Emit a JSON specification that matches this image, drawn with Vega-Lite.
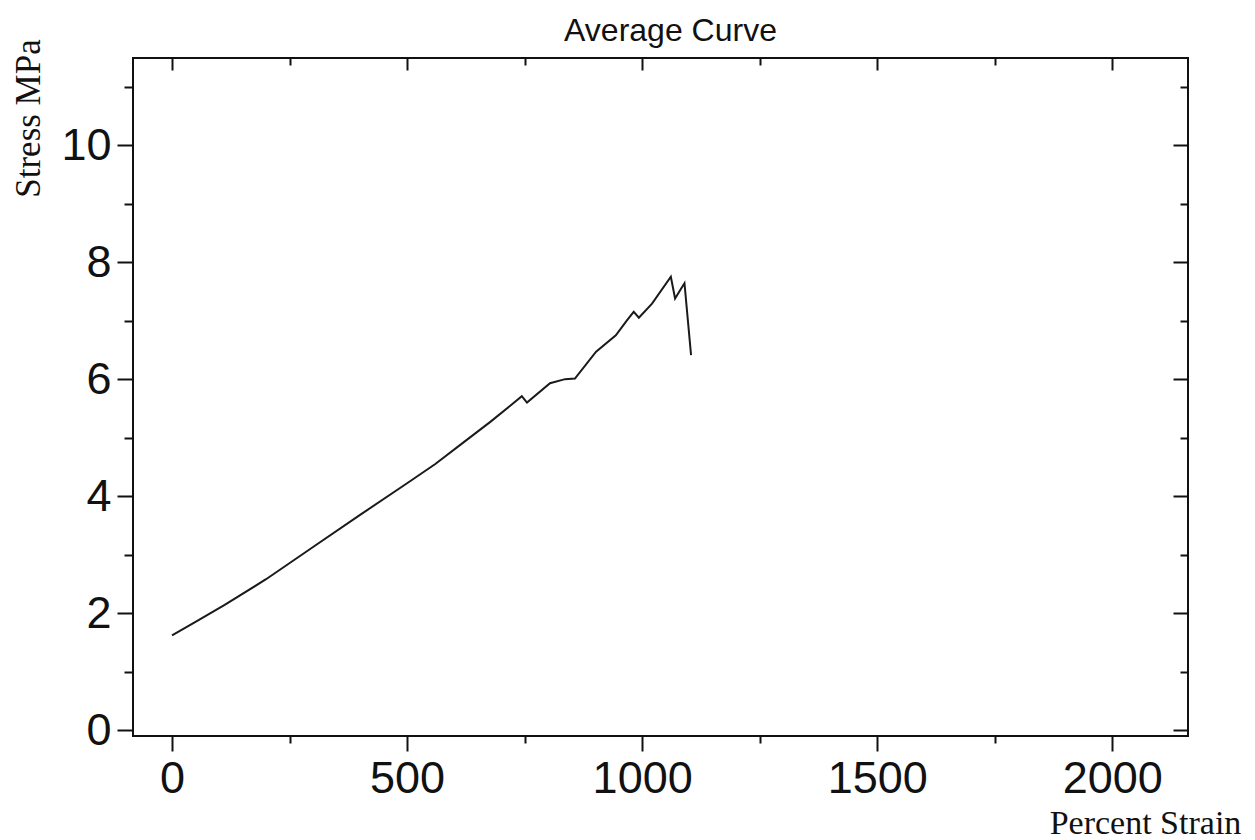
{
  "$schema": "https://vega.github.io/schema/vega-lite/v6.json",
  "width": 1055,
  "height": 678,
  "autosize": {"type": "none"},
  "padding": {"left": 133, "top": 58, "right": 67, "bottom": 104},
  "background": "#ffffff",
  "title": {
    "text": "Average Curve",
    "font": "Liberation Sans",
    "fontSize": 32,
    "fontWeight": "normal",
    "color": "#111111",
    "offset": 14,
    "dx": 10,
    "dy": 23
  },
  "config": {
    "view": {"stroke": "#111111", "strokeWidth": 2},
    "axis": {
      "domain": false,
      "grid": false,
      "tickColor": "#111111",
      "tickWidth": 2,
      "labelColor": "#111111",
      "labelFont": "Liberation Sans",
      "labelFontSize": 45,
      "format": "d",
      "titleColor": "#111111"
    }
  },
  "data": {
    "values": [
      {"strain": 0, "stress": 1.62},
      {"strain": 50, "stress": 1.85},
      {"strain": 112, "stress": 2.14},
      {"strain": 200, "stress": 2.58},
      {"strain": 300, "stress": 3.13},
      {"strain": 400, "stress": 3.68},
      {"strain": 500, "stress": 4.22},
      {"strain": 560, "stress": 4.55},
      {"strain": 620, "stress": 4.92},
      {"strain": 677, "stress": 5.27},
      {"strain": 720, "stress": 5.55},
      {"strain": 744, "stress": 5.71},
      {"strain": 755, "stress": 5.6},
      {"strain": 804, "stress": 5.93},
      {"strain": 836, "stress": 6.0},
      {"strain": 857, "stress": 6.01},
      {"strain": 902, "stress": 6.47},
      {"strain": 944, "stress": 6.75},
      {"strain": 968, "stress": 7.01},
      {"strain": 982, "stress": 7.15},
      {"strain": 993, "stress": 7.05},
      {"strain": 1021, "stress": 7.29},
      {"strain": 1061, "stress": 7.75},
      {"strain": 1070, "stress": 7.38},
      {"strain": 1083, "stress": 7.55},
      {"strain": 1090, "stress": 7.64},
      {"strain": 1104, "stress": 6.41}
    ]
  },
  "resolve": {"axis": {"x": "independent", "y": "independent"}},
  "layer": [
    {
      "mark": {"type": "line", "color": "#1a1a1a", "strokeWidth": 2},
      "encoding": {
        "x": {
          "field": "strain",
          "type": "quantitative",
          "scale": {"domain": [-83, 2161], "nice": false, "zero": false},
          "axis": {
            "orient": "bottom",
            "values": [0, 500, 1000, 1500, 2000],
            "tickSize": 15,
            "labelPadding": 5,
            "title": "Percent Strain",
            "titleFont": "Liberation Serif",
            "titleFontSize": 34,
            "titleFontWeight": "normal",
            "titleAlign": "center",
            "titleBaseline": "middle",
            "titleX": 1012,
            "titleY": 87
          }
        },
        "y": {
          "field": "stress",
          "type": "quantitative",
          "scale": {"domain": [-0.1, 11.49], "nice": false, "zero": false},
          "axis": {
            "orient": "left",
            "values": [0, 2, 4, 6, 8, 10],
            "tickSize": 16,
            "labelPadding": 6,
            "title": "Stress MPa",
            "titleFont": "Liberation Serif",
            "titleFontSize": 35,
            "titleFontWeight": "normal",
            "titleAngle": 270,
            "titleAlign": "center",
            "titleBaseline": "middle",
            "titleX": -105,
            "titleY": 60
          }
        }
      }
    },
    {
      "mark": {"type": "line", "strokeOpacity": 0},
      "encoding": {
        "x": {
          "field": "strain",
          "type": "quantitative",
          "axis": {"orient": "bottom", "values": [250, 750, 1250, 1750], "tickSize": 7, "labels": false, "title": null}
        },
        "y": {
          "field": "stress",
          "type": "quantitative",
          "axis": {"orient": "left", "values": [1, 3, 5, 7, 9, 11], "tickSize": 9, "labels": false, "title": null}
        }
      }
    },
    {
      "mark": {"type": "line", "strokeOpacity": 0},
      "encoding": {
        "x": {
          "field": "strain",
          "type": "quantitative",
          "axis": {"orient": "top", "values": [0, 500, 1000, 1500, 2000], "tickSize": -12, "labels": false, "title": null}
        },
        "y": {
          "field": "stress",
          "type": "quantitative",
          "axis": {"orient": "right", "values": [0, 2, 4, 6, 8, 10], "tickSize": -15, "labels": false, "title": null}
        }
      }
    },
    {
      "mark": {"type": "line", "strokeOpacity": 0},
      "encoding": {
        "x": {
          "field": "strain",
          "type": "quantitative",
          "axis": {"orient": "top", "values": [250, 750, 1250, 1750], "tickSize": -7, "labels": false, "title": null}
        },
        "y": {
          "field": "stress",
          "type": "quantitative",
          "axis": {"orient": "right", "values": [1, 3, 5, 7, 9, 11], "tickSize": -8, "labels": false, "title": null}
        }
      }
    }
  ]
}
